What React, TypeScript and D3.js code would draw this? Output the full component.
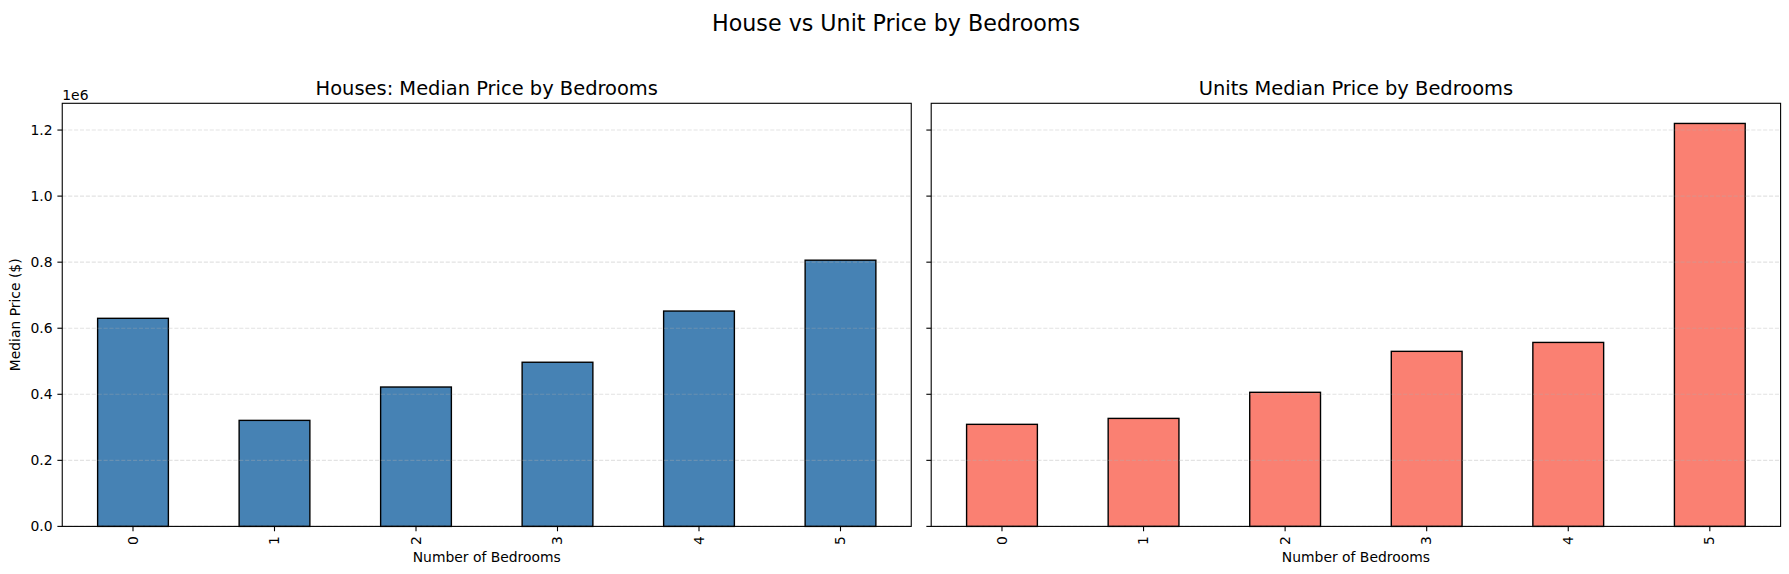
import React from 'react';
import * as d3 from 'd3';

// ---- data ----
const bedrooms: string[] = ['0', '1', '2', '3', '4', '5'];
const housePrices: number[] = [630000, 321000, 422000, 497000, 652000, 806000];
const unitPrices: number[] = [309000, 327000, 406000, 530000, 557000, 1220000];
const yTickValues: number[] = [0, 200000, 400000, 600000, 800000, 1000000, 1200000];
const yTickLabels: string[] = ['0.0', '0.2', '0.4', '0.6', '0.8', '1.0', '1.2'];

const suptitle = 'House vs Unit Price by Bedrooms';
const titles = ['Houses: Median Price by Bedrooms', 'Units Median Price by Bedrooms'];
const xLabel = 'Number of Bedrooms';
const yLabel = 'Median Price ($)';
const colors = ['#4682B4', '#FA8072'];

// ---- layout ----
const W = 1789;
const H = 574;
const TOP = 103.3;
const BOTTOM = 526.4;
const panels = [
  { x0: 62.25, x1: 911.25, values: housePrices },
  { x0: 931.2, x1: 1780.6, values: unitPrices },
];
const FONT = 'DejaVu Sans, Verdana, sans-serif';
const TICK = 4.86;
const PAD = 4.86;

const yMax = d3.max([...housePrices, ...unitPrices])! * 1.05;
const y = d3.scaleLinear().domain([0, yMax]).range([BOTTOM, TOP]);

function Panel({ idx }: { idx: number }) {
  const p = panels[idx];
  const x = d3
    .scaleBand<string>()
    .domain(bedrooms)
    .range([p.x0, p.x1])
    .paddingInner(0.5)
    .paddingOuter(0.25);
  const cx = (p.x0 + p.x1) / 2;
  return (
    <g>
      {/* bars */}
      {p.values.map((v, i) => (
        <rect
          key={'b' + i}
          x={x(bedrooms[i])!}
          y={y(v)}
          width={x.bandwidth()}
          height={y(0) - y(v)}
          fill={colors[idx]}
          stroke="#000"
          strokeWidth={1.39}
        />
      ))}
      {/* grid */}
      {yTickValues.map((t, i) => (
        <line
          key={'g' + i}
          x1={p.x0}
          x2={p.x1}
          y1={y(t)}
          y2={y(t)}
          stroke="#b0b0b0"
          strokeOpacity={0.35}
          strokeWidth={1.1}
          strokeDasharray="4.1 1.8"
        />
      ))}
      {/* frame */}
      <rect
        x={p.x0}
        y={TOP}
        width={p.x1 - p.x0}
        height={BOTTOM - TOP}
        fill="none"
        stroke="#000"
        strokeWidth={1.1}
      />
      {/* y ticks */}
      {yTickValues.map((t, i) => (
        <g key={'yt' + i}>
          <line x1={p.x0 - TICK} x2={p.x0} y1={y(t)} y2={y(t)} stroke="#000" strokeWidth={1.1} />
          {idx === 0 && (
            <text
              x={p.x0 - TICK - PAD}
              y={y(t)}
              dy="0.36em"
              textAnchor="end"
              fontSize={13.9}
              fontFamily={FONT}
              fill="#000"
            >
              {yTickLabels[i]}
            </text>
          )}
        </g>
      ))}
      {/* x ticks */}
      {bedrooms.map((b, i) => {
        const tx = x(b)! + x.bandwidth() / 2;
        return (
          <g key={'xt' + i}>
            <line x1={tx} x2={tx} y1={BOTTOM} y2={BOTTOM + TICK} stroke="#000" strokeWidth={1.1} />
            <text
              transform={`translate(${tx},${BOTTOM + TICK + PAD}) rotate(-90)`}
              dy="0.33em"
              textAnchor="end"
              fontSize={13.9}
              fontFamily={FONT}
              fill="#000"
            >
              {b}
            </text>
          </g>
        );
      })}
      {/* titles */}
      <text x={cx} y={95} textAnchor="middle" fontSize={19.44} fontFamily={FONT} fill="#000">
        {titles[idx]}
      </text>
      <text x={cx} y={562} textAnchor="middle" fontSize={13.9} fontFamily={FONT} fill="#000">
        {xLabel}
      </text>
      {idx === 0 && (
        <>
          <text x={p.x0} y={99.5} textAnchor="start" fontSize={13.9} fontFamily={FONT} fill="#000">
            1e6
          </text>
          <text
            transform={`translate(16,${(TOP + BOTTOM) / 2}) rotate(-90)`}
            dy="0.26em"
            textAnchor="middle"
            fontSize={13.9}
            fontFamily={FONT}
            fill="#000"
          >
            {yLabel}
          </text>
        </>
      )}
    </g>
  );
}

export default function App() {
  return (
    <svg
      width={W}
      height={H}
      viewBox={`0 0 ${W} ${H}`}
      style={{ position: 'absolute', left: 0, top: 0, display: 'block', background: '#fff' }}
    >
      <rect x={0} y={0} width={W} height={H} fill="#fff" />
      <text x={896} y={31} textAnchor="middle" fontSize={22.2} fontFamily={FONT} fill="#000">
        {suptitle}
      </text>
      <Panel idx={0} />
      <Panel idx={1} />
    </svg>
  );
}
